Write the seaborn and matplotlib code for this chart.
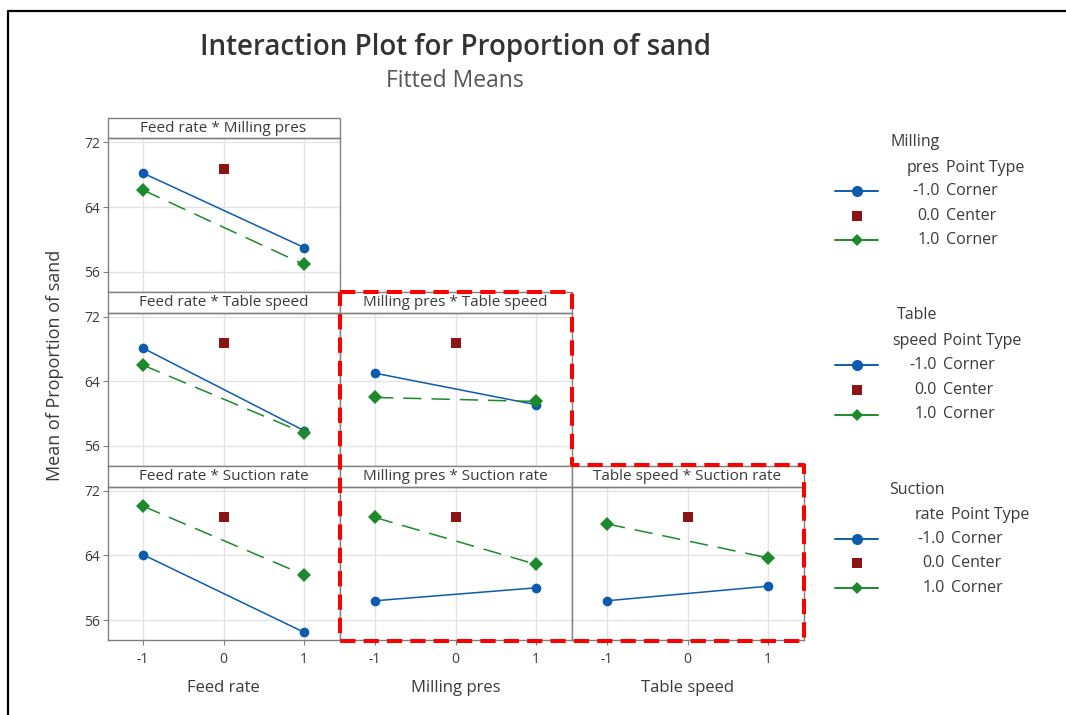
import matplotlib
matplotlib.use("Agg")
import matplotlib.pyplot as plt
from matplotlib.patches import Rectangle
from matplotlib.lines import Line2D
import seaborn as sns
import pandas as pd

# ---- data: fitted means for each two-factor interaction ----
levels = [-1, 1]
center_x = 0
factors = ["Feed rate", "Milling pres", "Table speed", "Suction rate"]

fr_mp_low = [68.2, 59.0]
fr_mp_high = [66.1, 56.9]
fr_ts_low = [68.1, 57.9]
fr_ts_high = [66.0, 57.6]
fr_sr_low = [64.1, 54.5]
fr_sr_high = [70.1, 61.6]
mp_ts_low = [65.0, 61.1]
mp_ts_high = [62.0, 61.5]
mp_sr_low = [58.4, 60.0]
mp_sr_high = [68.7, 62.9]
ts_sr_low = [58.4, 60.2]
ts_sr_high = [67.9, 63.7]
center_mean = 68.7

y_ticks = [56, 64, 72]
x_ticks = [-1, 0, 1]
legend_levels = ["-1.0", "0.0", "1.0"]
legend_types = ["Corner", "Center", "Corner"]

# (row, col, x-factor, trace-factor, low series, high series)
panels = [
    (0, 0, "Feed rate", "Milling pres", fr_mp_low, fr_mp_high),
    (1, 0, "Feed rate", "Table speed", fr_ts_low, fr_ts_high),
    (2, 0, "Feed rate", "Suction rate", fr_sr_low, fr_sr_high),
    (1, 1, "Milling pres", "Table speed", mp_ts_low, mp_ts_high),
    (2, 1, "Milling pres", "Suction rate", mp_sr_low, mp_sr_high),
    (2, 2, "Table speed", "Suction rate", ts_sr_low, ts_sr_high),
]

# ---- styling ----
sns.set_theme(style="white")
plt.rcParams["font.family"] = ["Open Sans", "DejaVu Sans"]
plt.rcParams["axes.unicode_minus"] = False

BLUE = "#0d5bae"
GREEN = "#1c8a2c"
DKRED = "#8c1414"
TEXT = "#3a3a3a"
SPINE = "#808080"
GRID = "#e4e4e4"

W, H = 1066, 715
fig = plt.figure(figsize=(W / 100, H / 100), dpi=100)


def fx(px):
    return px / W


def fy(py):
    return 1 - py / H


col_left = [107.5, 339.5, 571.5]
col_w = 232
row_top = [138.3, 312.5, 486.7]
ax_h = 153.7
strip_h = 20.5
GREEN_DASH = (0, (12, 6.5))
LW = 1.1

for row, col, xf, tf, low, high in panels:
    ax = fig.add_axes([fx(col_left[col]), fy(row_top[row] + ax_h),
                       col_w / W, ax_h / H])
    ax.set_xlim(-1.44, 1.44)
    ax.set_ylim(53.5, 72.5)
    ax.set_xticks(x_ticks)
    ax.set_yticks(y_ticks)
    ax.grid(True, color=GRID, lw=1.0)
    ax.set_axisbelow(True)
    for s in ax.spines.values():
        s.set_color(SPINE)
        s.set_linewidth(1.0)

    df_low = pd.DataFrame({"x": levels, "y": low})
    df_high = pd.DataFrame({"x": levels, "y": high})
    sns.lineplot(data=df_low, x="x", y="y", ax=ax, color=BLUE, lw=LW,
                 marker="o", markersize=7, markeredgewidth=0, legend=False)
    sns.lineplot(data=df_high, x="x", y="y", ax=ax, color=GREEN, lw=LW,
                 linestyle=GREEN_DASH, marker="D", markersize=6.8,
                 markeredgewidth=0, legend=False)
    sns.scatterplot(x=[center_x], y=[center_mean], ax=ax, color=DKRED,
                    marker="s", s=50, linewidth=0, legend=False, zorder=5)
    ax.set_xlabel("")
    ax.set_ylabel("")

    ax.tick_params(axis="both", colors=SPINE, labelcolor=TEXT, labelsize=10,
                   length=3.5, width=0.8, direction="out")
    ax.tick_params(axis="y", left=(col == 0), labelleft=(col == 0), pad=2)
    ax.tick_params(axis="x", bottom=(row == 2), labelbottom=(row == 2), pad=5)

    # panel strip with the interaction name
    sh = strip_h / ax_h
    ax.add_patch(Rectangle((0, 1), 1, sh, transform=ax.transAxes,
                           clip_on=False, facecolor="white",
                           edgecolor=SPINE, lw=1.0))
    ax.text(0.5, 1 + sh / 2, f"{xf} * {tf}", transform=ax.transAxes,
            ha="center", va="center", fontsize=11, color=TEXT)

# titles and axis labels
fig.text(fx(455.5), fy(48), "Interaction Plot for Proportion of sand",
         ha="center", va="center", fontsize=20, fontweight="semibold",
         color="#333333")
fig.text(fx(455), fy(81), "Fitted Means", ha="center", va="center",
         fontsize=16.5, color="#555555")
fig.text(fx(55), fy(365), "Mean of Proportion of sand", rotation=90,
         ha="center", va="center", fontsize=13, color=TEXT)
for c, name in enumerate(factors[:3]):
    fig.text(fx(col_left[c] + col_w / 2), fy(688), name, ha="center",
             va="center", fontsize=12, color=TEXT)

# legends, one per trace factor
LEG_FS = 11.5
legend_blocks = [
    (["Milling", "pres"], 940, [142.5, 167.5], [191, 215.5, 239.5]),
    (["Table", "speed"], 937, [315, 341.5], [364.5, 389.5, 414.5]),
    (["Suction", "rate"], 945, [490, 515], [539, 563, 588]),
]
for head, xr, hy, ey in legend_blocks:
    fig.text(fx(xr), fy(hy[0]), head[0], ha="right", va="center",
             fontsize=LEG_FS, color=TEXT)
    fig.text(fx(xr), fy(hy[1]), head[1], ha="right", va="center",
             fontsize=LEG_FS, color=TEXT)
    fig.text(fx(xr + 6), fy(hy[1]), "Point Type", ha="left", va="center",
             fontsize=LEG_FS, color=TEXT)
    for i, yy in enumerate(ey):
        fig.text(fx(xr), fy(yy), legend_levels[i], ha="right", va="center",
                 fontsize=LEG_FS, color=TEXT)
        fig.text(fx(xr + 6), fy(yy), legend_types[i], ha="left", va="center",
                 fontsize=LEG_FS, color=TEXT)
    mx = fx(856.5)
    fig.add_artist(Line2D([fx(835), mx, fx(878)], [fy(ey[0])] * 3,
                          color=BLUE, lw=1.4, marker="o", markersize=8,
                          markeredgewidth=0, markevery=[1]))
    fig.add_artist(Line2D([mx], [fy(ey[1])], color=DKRED, lw=0, marker="s",
                          markersize=7.5, markeredgewidth=0))
    fig.add_artist(Line2D([fx(835), mx, fx(878)], [fy(ey[2])] * 3,
                          color=GREEN, lw=1.4, marker="D", markersize=6,
                          markeredgewidth=0, markevery=[1]))

# red dashed outline around the Milling/Table/Suction panels
outline_px = [(340, 292), (572, 292), (572, 465), (804, 465), (804, 641),
              (340, 641), (340, 292)]
fig.add_artist(Line2D([fx(p[0]) for p in outline_px],
                      [fy(p[1]) for p in outline_px], color="#ff0000",
                      lw=2.9, linestyle=(0, (3.8, 2.0)),
                      solid_joinstyle="miter", zorder=10))

# frame on the left and top edges
fig.add_artist(Line2D([fx(8), fx(8), fx(W)], [0, fy(11), fy(11)],
                      color="black", lw=1.6, zorder=10))

fig.savefig("out.png", dpi=100)
